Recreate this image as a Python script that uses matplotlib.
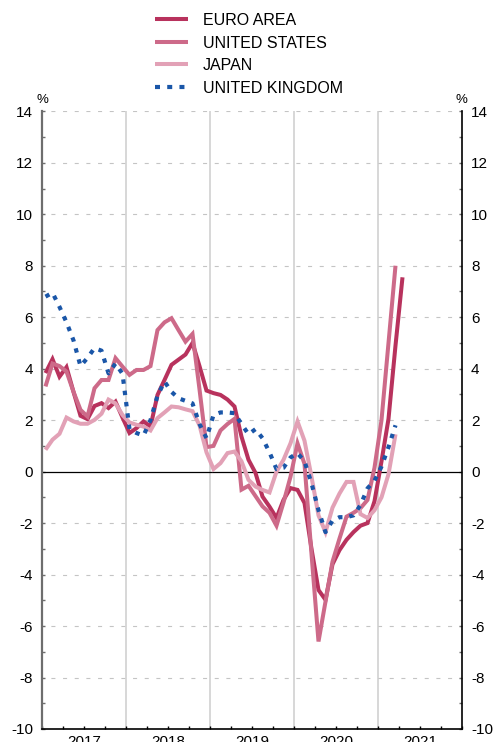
import numpy as np
import matplotlib.pyplot as plt
from matplotlib.lines import Line2D
from matplotlib.transforms import blended_transform_factory

plt.rcParams['font.family'] = ['Liberation Sans', 'DejaVu Sans']
plt.rcParams['axes.unicode_minus'] = False
plt.rcParams['lines.scale_dashes'] = False

# monthly growth rates, Jan 2017 onwards (%)
years = ['2017', '2018', '2019', '2020', '2021']

euro_area = [3.83, 4.37, 3.69, 4.06, 3.1, 2.17, 2.04, 2.55, 2.66, 2.47, 2.72, 2.1,
             1.5, 1.69, 1.95, 1.75, 2.98, 3.56, 4.15, 4.35, 4.55, 5.0, 4.1, 3.15,
             3.05, 2.98, 2.8, 2.53, 1.36, 0.46, -0.05, -0.97, -1.36, -1.8, -1.1, -0.64,
             -0.71, -1.22, -3.0, -4.6, -4.98, -3.6, -3.05, -2.65, -2.35, -2.1, -2.0, -1.15,
             0.4, 2.05, 4.9, 7.55]

united_states = [3.31, 4.2, 4.1, 3.89, 3.1, 2.4, 2.14, 3.24, 3.56, 3.56, 4.41, 4.08,
                 3.76, 3.95, 3.95, 4.1, 5.5, 5.8, 5.96, 5.5, 5.05, 5.35, 3.2, 0.95,
                 1.0, 1.6, 1.85, 2.05, -0.7, -0.55, -0.95, -1.35, -1.6, -2.1, -1.2, -0.2,
                 1.1, 0.3, -3.2, -6.6, -5.05, -3.5, -2.6, -1.75, -1.6, -1.42, -1.1, 0.15,
                 2.0, 5.0, 8.0]

japan = [0.85, 1.24, 1.47, 2.1, 1.95, 1.86, 1.86, 2.01, 2.25, 2.8, 2.65, 2.2,
         1.91, 1.82, 1.75, 1.6, 2.08, 2.3, 2.53, 2.5, 2.42, 2.35, 1.8, 0.75,
         0.1, 0.33, 0.72, 0.78, 0.4, -0.32, -0.58, -0.71, -0.81, 0.0, 0.46, 1.1,
         1.95, 1.2, -0.2, -1.7, -2.35, -1.4, -0.85, -0.4, -0.4, -1.65, -1.8, -1.5,
         -1.0, -0.1, 1.45]

united_kingdom = [6.8, 6.95, 6.4, 5.8, 5.1, 4.1, 4.42, 4.8, 4.7, 3.82, 4.2, 3.8,
                  1.65, 1.5, 1.4, 2.0, 2.95, 3.5, 3.1, 2.85, 2.75, 2.65, 1.85, 1.3,
                  2.2, 2.3, 2.3, 2.27, 1.85, 1.45, 1.65, 1.3, 0.75, 0.1, 0.15, 0.55,
                  0.72, 0.4, -0.45, -1.5, -2.35, -1.9, -1.77, -1.77, -1.7, -1.3, -0.65, -0.35,
                  0.2, 0.95, 1.8]

c_ea = '#b8325d'
c_us = '#cd6a89'
c_jp = '#e2a1b6'
c_uk = '#1a56a8'

fig = plt.figure(figsize=(4.95, 7.42), dpi=100)
ax = fig.add_axes([42 / 495, 1 - 729 / 742, 420 / 495, (729 - 111.3) / 742])

ax.set_xlim(-0.5, 59.5)
ax.set_ylim(-10, 14)

# grid: dashed horizontals, solid zero line, year separators
for v in range(-8, 15, 2):
    if v != 0:
        ax.axhline(v, color='#c4c4c4', lw=0.8, linestyle=(2, (2.9, 5.5)), zorder=1)
ax.axhline(0, color='black', lw=0.9, zorder=2)
for b in [11.5, 23.5, 35.5, 47.5]:
    ax.axvline(b, color='#cdcdcd', lw=1.1, zorder=1)

line_kw = dict(lw=2.9, solid_joinstyle='miter', solid_capstyle='butt', zorder=3)
ax.plot(np.arange(len(euro_area)), euro_area, color=c_ea, **line_kw)
ax.plot(np.arange(len(united_states)), united_states, color=c_us, **line_kw)
ax.plot(np.arange(len(japan)), japan, color=c_jp, **line_kw)
ax.plot(np.arange(len(united_kingdom)), united_kingdom, color=c_uk, lw=3.0,
        linestyle=(0, (3.2, 5.0)), dash_capstyle='butt', zorder=4)

# axes styling
ax.spines['top'].set_visible(False)
ax.spines['left'].set_color('#6e6e6e')
ax.spines['left'].set_linewidth(1.6)
ax.spines['right'].set_linewidth(1.2)
ax.spines['bottom'].set_linewidth(1.2)

ax.set_yticks(range(-10, 15, 2))
ax.set_yticks(range(-9, 14, 2), minor=True)
ax.tick_params(axis='y', which='both', direction='in', length=2.5, width=1,
               left=True, right=True, labelleft=True, labelright=True,
               labelsize=11, pad=6.5, color='#6e6e6e')
ax.set_xticks(np.arange(-0.5, 59.6, 3))
ax.set_xticklabels([])
ax.tick_params(axis='x', which='both', direction='in', length=2.5, width=1)

# year labels sit just under the axis, partly below the canvas edge
trans = blended_transform_factory(ax.transData, ax.transAxes)
for k, yr in enumerate(years):
    ax.text(5.5 + 12 * k, -0.009, yr, transform=trans, ha='center', va='top',
            fontsize=11)

fig.text(42 / 495, 1 - 100 / 742, '%', ha='center', va='center', fontsize=9.5)
fig.text(461 / 495, 1 - 100 / 742, '%', ha='center', va='center', fontsize=9.5)

handles = [
    Line2D([], [], color=c_ea, lw=2.9, solid_capstyle='butt'),
    Line2D([], [], color=c_us, lw=2.9, solid_capstyle='butt'),
    Line2D([], [], color=c_jp, lw=2.9, solid_capstyle='butt'),
    Line2D([], [], color=c_uk, lw=3.0, linestyle=(0, (3.6, 5.2)), dash_capstyle='butt'),
]
labels = ['EURO AREA', 'UNITED STATES', 'JAPAN', 'UNITED KINGDOM']
fig.legend(handles, labels, loc='upper left', bbox_to_anchor=(155 / 495, 1 - 13 / 742),
           frameon=False, fontsize=11.5, borderpad=0, borderaxespad=0,
           handlelength=2.05, handletextpad=0.95, labelspacing=0.47)

fig.savefig('out.png', dpi=100)
